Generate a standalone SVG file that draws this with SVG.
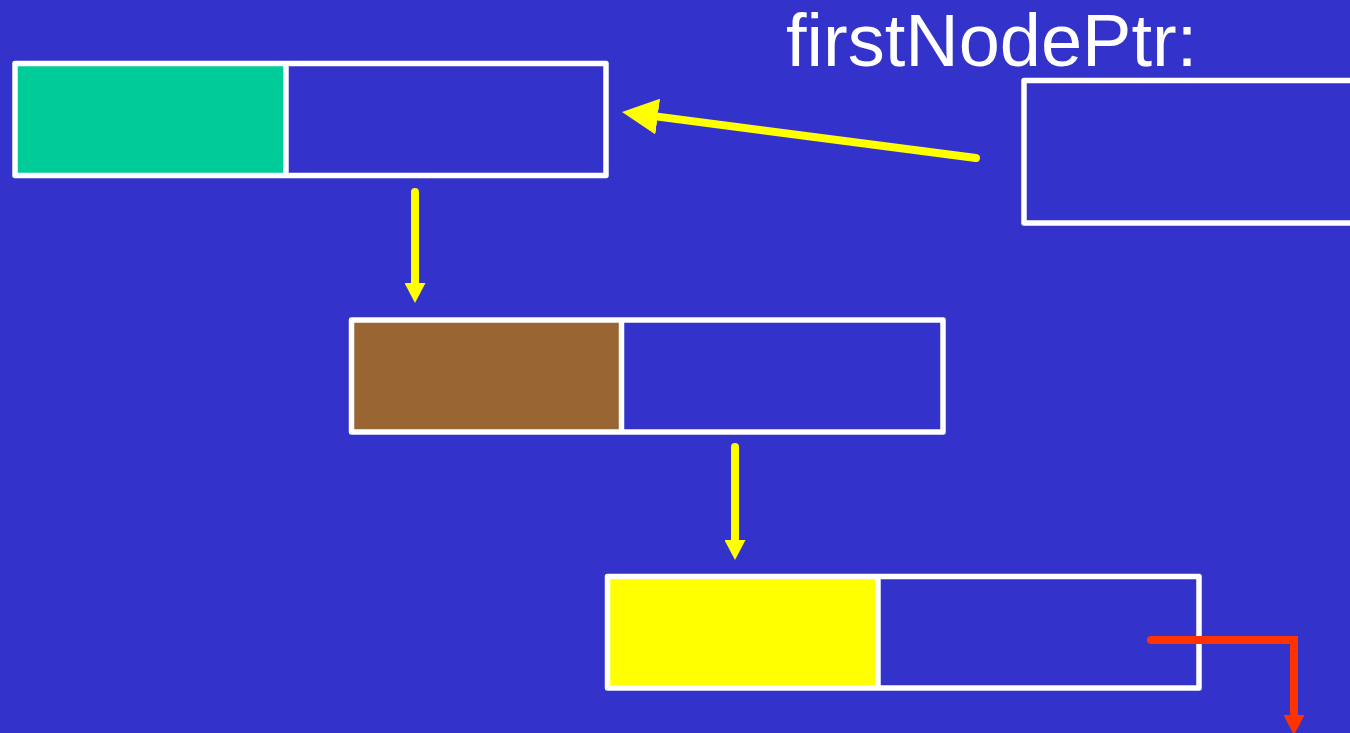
<svg xmlns="http://www.w3.org/2000/svg" width="1350" height="733" viewBox="0 0 1350 733">
  <style>
    .frame { fill: none; stroke: #FFFFFF; stroke-width: 5.5; stroke-linejoin: round; }
    .divider { stroke: #FFFFFF; stroke-width: 5.5; }
    .link { fill: none; stroke: #FFFF00; stroke-width: 8; stroke-linecap: round; }
    .null { fill: none; stroke: #FF3300; stroke-width: 8; stroke-linecap: round; stroke-linejoin: miter; }
    .label { font-family: "Liberation Sans", Arial, sans-serif; font-size: 74px; fill: #FFFFFF; }
  </style>
  <defs>
    <marker id="headSmall" viewBox="0 0 20 21" refX="0" refY="10.5" markerWidth="20" markerHeight="21" markerUnits="userSpaceOnUse" orient="auto">
      <path d="M0,0 L20,10.5 L0,21 Z" fill="#FFFF00"/>
    </marker>
    <marker id="headLarge" viewBox="0 0 36 36" refX="0" refY="18" markerWidth="36" markerHeight="36" markerUnits="userSpaceOnUse" orient="auto">
      <path d="M0,0 L36,18 L0,36 Z" fill="#FFFF00"/>
    </marker>
    <marker id="headRed" viewBox="0 0 20 21" refX="0" refY="10.5" markerWidth="20" markerHeight="21" markerUnits="userSpaceOnUse" orient="auto">
      <path d="M0,0 L20,10.5 L0,21 Z" fill="#FF3300"/>
    </marker>
  </defs>

  <rect width="1350" height="733" fill="#3333CC"/>

  <text class="label" x="786" y="66">firstNodePtr:</text>

  <g id="pointer">
    <rect class="frame" x="1024" y="80.5" width="340" height="142.5"/>
  </g>

  <g id="node1">
    <rect x="15" y="63.5" width="271" height="112" fill="#00CC99"/>
    <rect class="frame" x="15" y="63.5" width="591" height="112"/>
    <line class="divider" x1="286" y1="63.5" x2="286" y2="175.5"/>
  </g>

  <g id="node2">
    <rect x="351.5" y="320" width="270" height="112" fill="#996633"/>
    <rect class="frame" x="351.5" y="320" width="591.5" height="112"/>
    <line class="divider" x1="621.5" y1="320" x2="621.5" y2="432"/>
  </g>

  <g id="node3">
    <rect x="607.5" y="576.5" width="270.5" height="111.5" fill="#FFFF00"/>
    <rect class="frame" x="607.5" y="576.5" width="591.5" height="111.5"/>
    <line class="divider" x1="878" y1="576.5" x2="878" y2="688"/>
  </g>

  <g id="connectors">
    <path class="link" d="M976,158 L657.7,116.6" stroke-width="9" marker-end="url(#headLarge)"/>
    <path class="link" d="M415,192 L415,283" marker-end="url(#headSmall)"/>
    <path class="link" d="M735,447 L735,540" marker-end="url(#headSmall)"/>
    <path class="null" d="M1151,640 H1294 V715" marker-end="url(#headRed)"/>
  </g>
</svg>
